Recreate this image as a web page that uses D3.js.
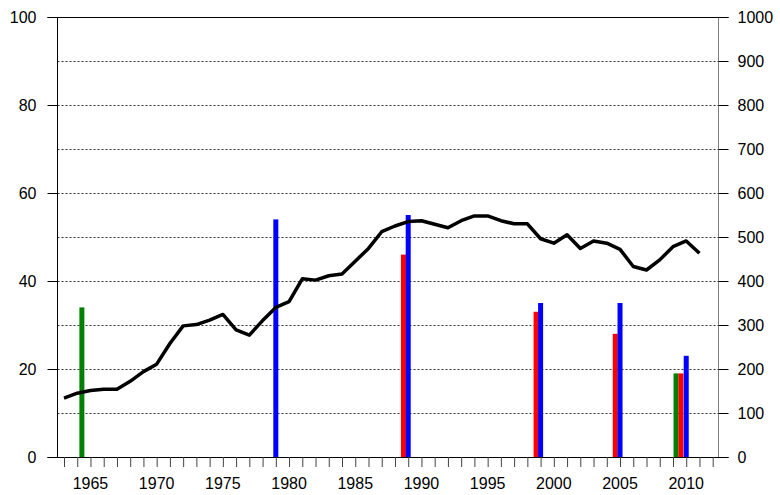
<!DOCTYPE html>
<html>
<head>
<meta charset="utf-8">
<script src="https://cdn.jsdelivr.net/npm/d3@7"></script>
<style>
  body { margin: 0; background: #fff; }
  svg { display: block; font-family: Arial, "Liberation Sans", sans-serif; }
</style>
</head>
<body>
<svg id="chart" width="780" height="495"></svg>
<script>
const width = 780
const height = 495

// line series (left axis, 0-100)
const years = d3.range(1963, 2012)
const lineValues = [13.4, 14.5, 15.1, 15.4, 15.4, 17.2, 19.4, 21.1, 25.8, 29.8,
    30.1, 31.1, 32.4, 28.9, 27.7, 31.0, 34.0, 35.3, 40.5, 40.2,
    41.2, 41.6, 44.5, 47.4, 51.2, 52.5, 53.5, 53.7, 52.9, 52.1,
    53.7, 54.8, 54.8, 53.7, 53.0, 53.0, 49.6, 48.6, 50.5, 47.4,
    49.1, 48.6, 47.2, 43.3, 42.5, 44.8, 47.8, 49.1, 46.3]

// bar series (right axis, 0-1000), year positions
const greenYears = [1964.35, 2009.23]
const greenValues = [340, 190]
const redYears = [1988.64, 1998.66, 2004.64, 2009.6]
const redValues = [460, 330, 280, 190]
const blueYears = [1979, 1989, 1999, 2005, 2010]
const blueValues = [540, 550, 350, 350, 230]

const leftTicks = [0, 20, 40, 60, 80, 100]
const rightTicks = d3.range(0, 1001, 100)
const gridTicks = d3.range(10, 100, 10)
const yearLabels = [1965, 1970, 1975, 1980, 1985, 1990, 1995, 2000, 2005, 2010]

const plotLeft = 57.5
const plotRight = 718.5
const plotTop = 17
const plotBottom = 457

const x = d3.scaleLinear().domain([1963, 2012]).range([64, 712.7])
const yLeft = d3.scaleLinear().domain([0, 100]).range([plotBottom, plotTop])
const yRight = d3.scaleLinear().domain([0, 1000]).range([plotBottom, plotTop])

const svg = d3.select("#chart")

// dotted grid
svg.append("g")
    .selectAll("line")
    .data(gridTicks)
    .enter().append("line")
    .attr("x1", plotLeft)
    .attr("x2", plotRight)
    .attr("y1", d => Math.round(yLeft(d)) + 0.5)
    .attr("y2", d => Math.round(yLeft(d)) + 0.5)
    .attr("stroke", "#333")
    .attr("stroke-width", 1)
    .attr("stroke-dasharray", "2,2")

// bars
const barWidth = 5
function drawBars(xs, vs, color) {
    svg.append("g")
        .selectAll("rect")
        .data(vs)
        .enter().append("rect")
        .attr("x", (d, i) => x(xs[i]) - barWidth / 2)
        .attr("y", d => yRight(d))
        .attr("width", barWidth)
        .attr("height", d => plotBottom - yRight(d))
        .attr("fill", color)
}
drawBars(greenYears, greenValues, "#008000")
drawBars(redYears, redValues, "#ff0000")
drawBars(blueYears, blueValues, "#0000ff")

// line
const line = d3.line()
    .x((d, i) => x(years[i]))
    .y(d => yLeft(d))

svg.append("path")
    .datum(lineValues)
    .attr("d", line)
    .attr("fill", "none")
    .attr("stroke", "#000")
    .attr("stroke-width", 3.5)
    .attr("stroke-linejoin", "round")

// left axis
const leftAxis = svg.append("g")
    .attr("transform", `translate(${plotLeft},0)`)
    .call(d3.axisLeft(yLeft).tickValues(leftTicks).tickSize(10).tickPadding(11))
leftAxis.select(".domain").attr("d", `M0,${plotTop}V${plotBottom}`).attr("stroke", "#000")
leftAxis.selectAll(".tick line").attr("stroke", "#000")
leftAxis.selectAll("text").attr("font-size", 16).attr("fill", "#000")
    .attr("font-family", "Arial, 'Liberation Sans', sans-serif")

// right axis
const rightAxis = svg.append("g")
    .attr("transform", `translate(${plotRight},0)`)
    .call(d3.axisRight(yRight).tickValues(rightTicks).tickSize(10).tickPadding(9).tickFormat(d3.format("d")))
rightAxis.select(".domain").attr("d", `M0,${plotTop}V${plotBottom}`).attr("stroke", "#808080")
rightAxis.selectAll(".tick line").attr("stroke", "#000")
rightAxis.selectAll("text").attr("font-size", 16).attr("fill", "#000")
    .attr("font-family", "Arial, 'Liberation Sans', sans-serif")

// top border
svg.append("line")
    .attr("x1", plotLeft - 10).attr("x2", plotRight + 10)
    .attr("y1", plotTop + 0.5).attr("y2", plotTop + 0.5)
    .attr("stroke", "#000")

// bottom axis
const bottomAxis = svg.append("g")
    .attr("transform", `translate(0,${plotBottom})`)
    .call(d3.axisBottom(x).tickValues(d3.range(1963, 2013)).tickSize(10).tickFormat(""))
bottomAxis.select(".domain").attr("d", `M${plotLeft - 10},0.5H${plotRight + 10}`).attr("stroke", "#000")
bottomAxis.selectAll(".tick line").attr("stroke", "#444")

svg.append("g")
    .selectAll("text")
    .data(yearLabels)
    .enter().append("text")
    .attr("x", d => x(d))
    .attr("y", 489)
    .attr("text-anchor", "middle")
    .attr("font-size", 16)
    .attr("fill", "#000")
    .text(d => d)
</script>
</body>
</html>
